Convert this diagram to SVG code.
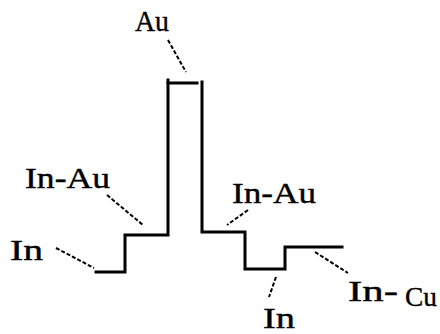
<svg xmlns="http://www.w3.org/2000/svg" width="440" height="334" viewBox="0 0 440 334">
  <style>
    .profile { fill: none; stroke: #000; stroke-width: 3; stroke-linecap: square; }
    .leader { fill: none; stroke: #000; stroke-width: 2; stroke-dasharray: 4 2; }
    .lbl { font-family: "Liberation Serif", "Times New Roman", serif; font-size: 30px; fill: #000; stroke: #000; stroke-width: 0.4; }
    .lbl-sm { font-family: "Liberation Serif", "Times New Roman", serif; font-size: 28px; fill: #000; stroke: #000; stroke-width: 0.4; }
  </style>
  <rect width="440" height="334" fill="#fff"/>

  <!-- step profile of the bump cross-section -->
  <g id="profile">
    <path class="profile" d="M96 272 H125 V235 H168 V80"/>
    <path class="profile" d="M168 83 H197"/>
    <path class="profile" d="M202 82 V232 H245 V269 H285 V247 H342"/>
  </g>

  <!-- leader lines from labels to layers -->
  <g id="leaders">
    <line class="leader" x1="168" y1="40" x2="186" y2="72"/>
    <line class="leader" x1="107" y1="195" x2="143" y2="225"/>
    <line class="leader" x1="56" y1="248" x2="94" y2="268"/>
    <line class="leader" x1="248" y1="210" x2="227" y2="225"/>
    <line class="leader" x1="276" y1="277" x2="269" y2="297"/>
    <line class="leader" x1="315" y1="252" x2="348" y2="273"/>
  </g>

  <g id="label-au"><text class="lbl" x="135" y="31" textLength="34" lengthAdjust="spacingAndGlyphs">Au</text></g>
  <g id="label-inau-left"><text class="lbl" x="25" y="188" textLength="85" lengthAdjust="spacingAndGlyphs">In-Au</text></g>
  <g id="label-in-left"><text class="lbl" x="10" y="260" textLength="33" lengthAdjust="spacingAndGlyphs">In</text></g>
  <g id="label-inau-right"><text class="lbl" x="232" y="203" textLength="84" lengthAdjust="spacingAndGlyphs">In-Au</text></g>
  <g id="label-in-bottom"><text class="lbl" x="263" y="328" textLength="32" lengthAdjust="spacingAndGlyphs">In</text></g>
  <g id="label-incu">
    <text class="lbl" x="348" y="301" textLength="50" lengthAdjust="spacingAndGlyphs">In-</text>
    <text class="lbl-sm" x="405" y="306" textLength="32" lengthAdjust="spacingAndGlyphs">Cu</text>
  </g>
</svg>
